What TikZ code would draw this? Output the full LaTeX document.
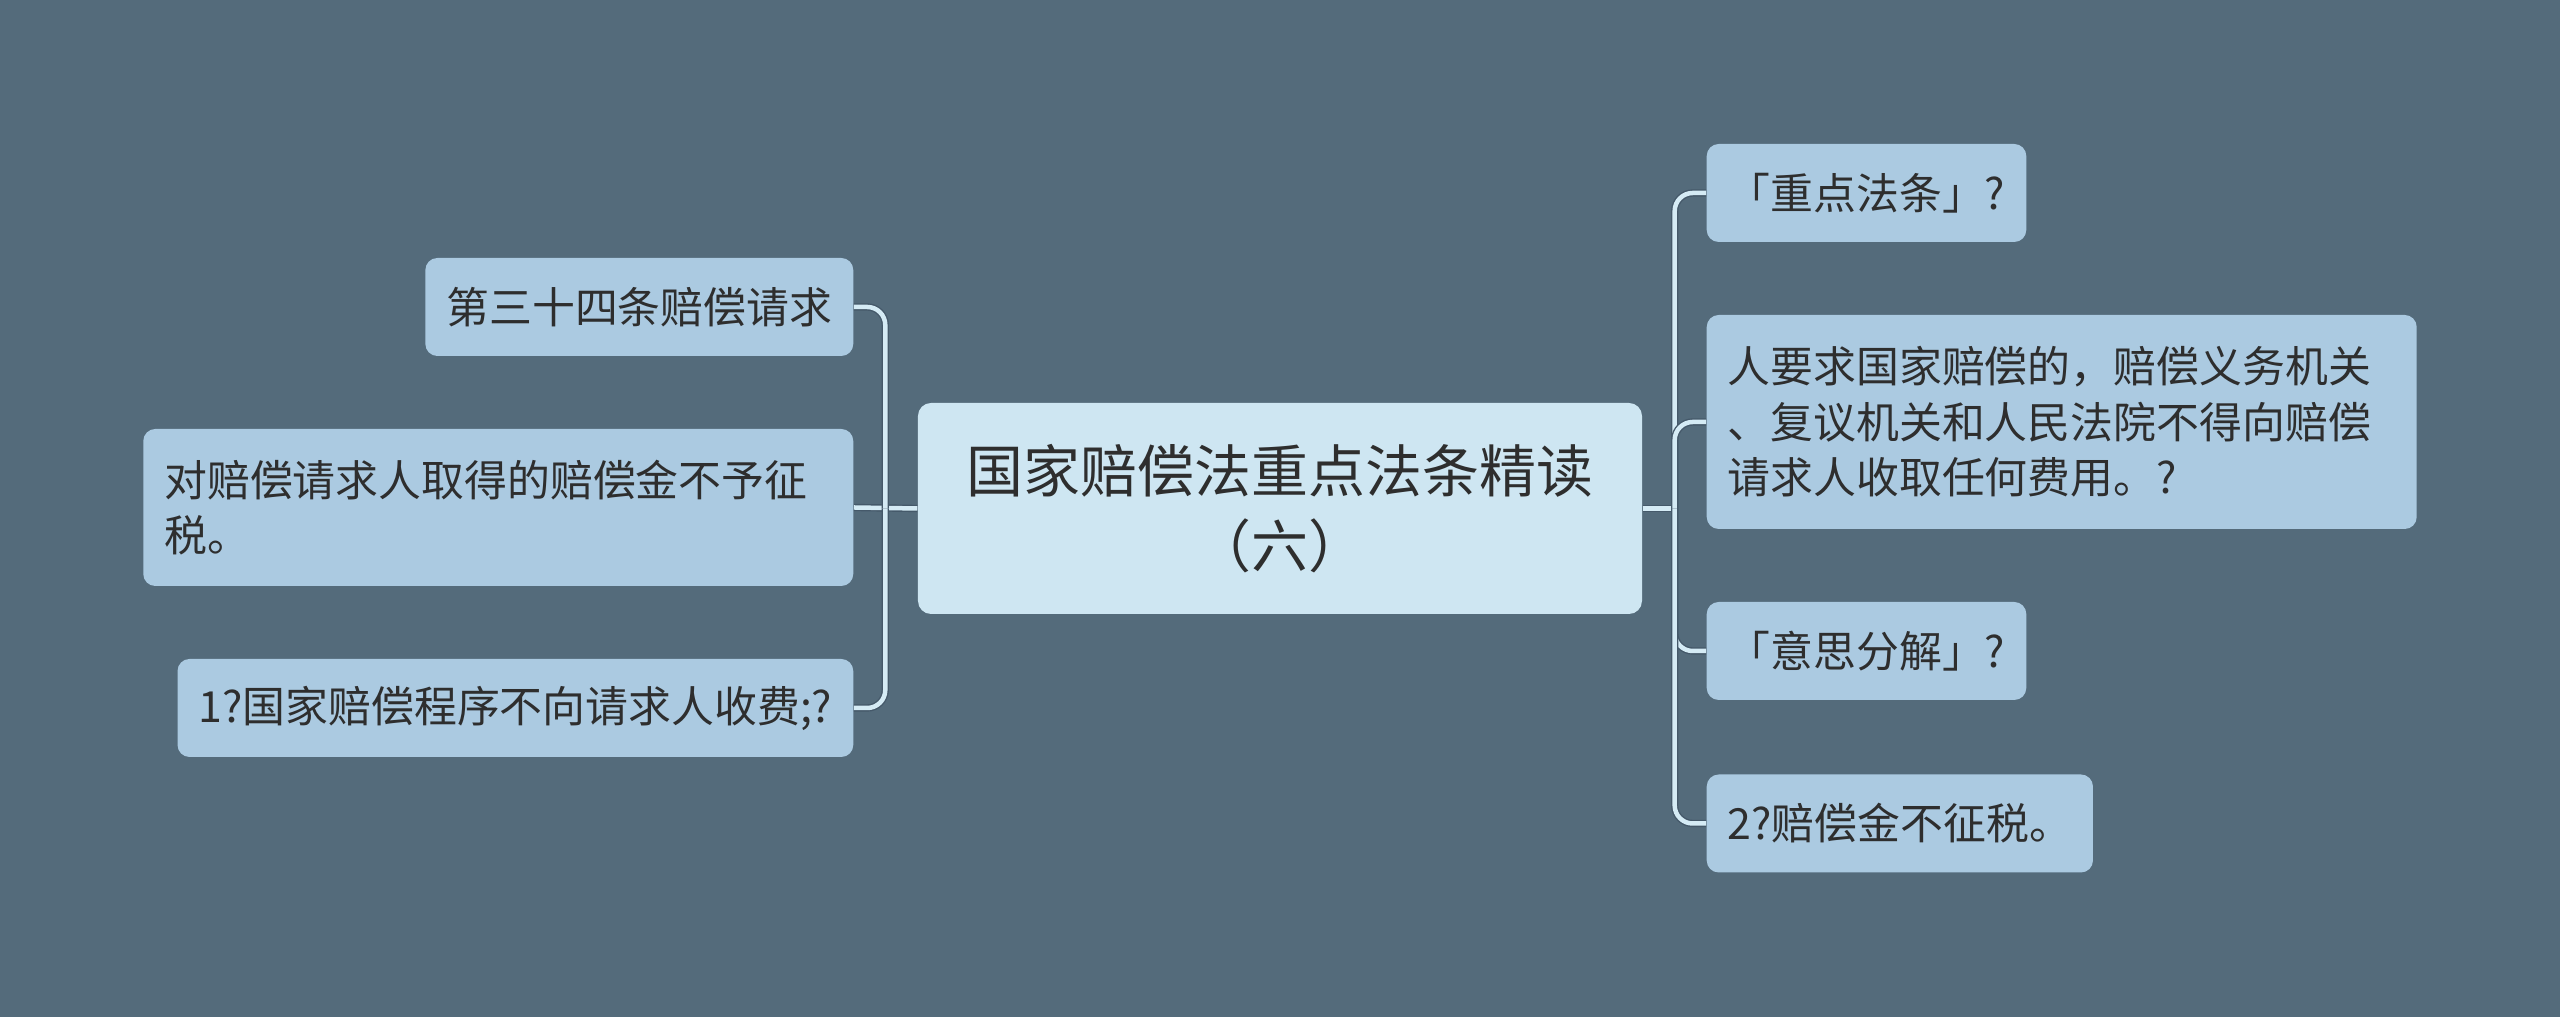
\documentclass[tikz,border=0pt]{standalone}
\usepackage{fontspec}
\setmainfont{Noto Sans CJK SC}
\usetikzlibrary{positioning,calc}
\definecolor{bgslate}{HTML}{546B7B}
\definecolor{topicfill}{HTML}{CEE6F2}
\definecolor{leaffill}{HTML}{ABCAE1}
\definecolor{branchcol}{HTML}{D5EBF5}
\definecolor{branchedge}{HTML}{45596A}
\definecolor{textcol}{HTML}{2E2E2E}
\tikzset{
  topic/.style={
    shape = rectangle,
    rounded corners = 0.13cm,
    fill = topicfill,
    text = textcol,
    align = center,
    minimum width = 7.24cm,
    minimum height = 2.11cm,
    font = \fontsize{16.2}{21.3}\selectfont
  },
  leaf/.style={
    shape = rectangle,
    rounded corners = 0.12cm,
    fill = leaffill,
    text = textcol,
    align = left,
    inner xsep = 0.21cm,
    inner ysep = 0.1cm,
    minimum height = 0.98cm,
    font = \fontsize{12.2}{15.8}\selectfont
  },
  branch/.style={
    draw = branchedge,
    double = branchcol,
    double distance = 0.045cm,
    line width = 0.4pt,
    rounded corners = 0.18cm
  }
}
\begin{document}
\begin{tikzpicture}
    \def\W{12.8}
    \def\H{5.085}
    \def\dx{4.26}
    \fill[bgslate] (-\W,-\H) rectangle (\W,\H);
    \useasboundingbox (-\W,-\H) rectangle (\W,\H);
    \node[topic] (root) at (0,0) {国家赔偿法重点法条精读\\（六）};
    % left side
    \node[leaf, anchor=east] (l1) at (-\dx, 2.015) {第三十四条赔偿请求};
    \node[leaf, anchor=east, text width=6.68cm, minimum height=1.57cm] (l2) at (-\dx, 0.01) {对赔偿请求人取得的赔偿金不予征\\税。};
    \node[leaf, anchor=east] (l3) at (-\dx, -1.995) {1?国家赔偿程序不向请求人收费;?};
    % right side
    \node[leaf, anchor=west] (r1) at (\dx, 3.155) {「重点法条」?};
    \node[leaf, anchor=west, text width=6.68cm, minimum height=2.14cm] (r2) at (\dx, 0.865) {人要求国家赔偿的，赔偿义务机关\\、复议机关和人民法院不得向赔偿\\请求人收取任何费用。?};
    \node[leaf, anchor=west] (r3) at (\dx, -1.425) {「意思分解」?};
    \node[leaf, anchor=west] (r4) at (\dx, -3.15) {2?赔偿金不征税。};
    \coordinate (lj) at ($(root.west)+(-0.32,0)$);
    \coordinate (rj) at ($(root.east)+(0.32,0)$);
    \draw[branch] (root.west) -- (l2.east);
    \draw[branch] (root.east) -- (rj);
    \foreach \n in {l1,l3}
      \draw[branch] (lj) |- (\n.east);
    \foreach \n in {r1,r2,r3,r4}
      \draw[branch] (rj) |- (\n.west);
\end{tikzpicture}
\end{document}
